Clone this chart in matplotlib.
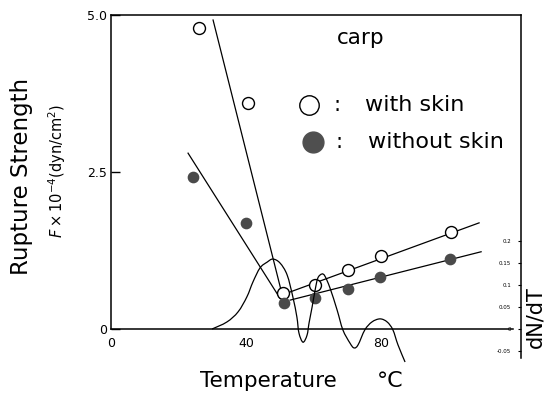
import numpy as np
import matplotlib.pyplot as plt
from matplotlib.path import Path
from matplotlib.patches import PathPatch

plt.rcParams['font.family'] = 'DejaVu Sans'

# rupture strength (x10^-4 dyn/cm^2) vs temperature (deg C)
t_skin = [26.0, 40.5, 50.9, 60.4, 70.1, 79.9, 100.6]
f_skin = [4.79, 3.60, 0.57, 0.70, 0.94, 1.16, 1.55]
t_noskin = [24.3, 40.0, 51.2, 60.4, 70.1, 79.6, 100.3]
f_noskin = [2.42, 1.69, 0.41, 0.49, 0.64, 0.83, 1.11]

# hand-fitted straight lines (end points)
fit_skin_fall = ([30.2, 50.3], [4.92, 0.62])
fit_skin_rise = ([53.0, 108.9], [0.59, 1.69])
fit_noskin_fall = ([22.8, 50.0], [2.80, 0.49])
fit_noskin_rise = ([53.0, 109.5], [0.46, 1.23])

# dN/dT trace
t_dndt = [29.9, 34.3, 37.6, 40.2, 42.0, 44.1, 46.2, 47.9, 50.0, 52.1, 53.8,
          55.0, 55.6, 56.8, 58.0, 58.6, 59.5, 60.4, 61.2, 62.4, 63.3, 64.8,
          66.9, 68.6, 70.7, 71.9, 73.1, 75.1, 77.2, 79.6, 81.7, 83.4, 84.9,
          87.0]
dndt = [0.000, 0.016, 0.039, 0.073, 0.107, 0.139, 0.152, 0.159, 0.150, 0.123,
        0.073, 0.027, -0.009, -0.030, -0.014, 0.014, 0.050, 0.089, 0.116,
        0.125, 0.120, 0.093, 0.043, -0.002, -0.032, -0.043, -0.036, -0.002,
        0.016, 0.023, 0.016, -0.002, -0.036, -0.075]

left_ticks = [0, 2.5, 5.0]
left_labels = ['0', '2.5', '5.0']
x_ticks = [0, 40, 80]
right_ticks = [-0.05, 0, 0.05, 0.1, 0.15, 0.2]
right_labels = ['-0.05', '0', '0.05', '0.1', '0.15', '0.2']


def smooth_path(xs, ys):
    """Catmull-Rom curve through the points, as cubic Bezier segments."""
    p = np.column_stack([xs, ys])
    p = np.vstack([p[0], p, p[-1]])
    verts = [p[1]]
    codes = [Path.MOVETO]
    for i in range(1, len(p) - 2):
        c1 = p[i] + (p[i + 1] - p[i - 1]) / 6
        c2 = p[i + 1] - (p[i + 2] - p[i]) / 6
        verts += [c1, c2, p[i + 1]]
        codes += [Path.CURVE4] * 3
    return Path(verts, codes)


W, H = 548, 398
fig = plt.figure(figsize=(W / 100, H / 100), dpi=100)

x0, x1, ytop, ybot = 111, 521, 15, 329
ax = fig.add_axes([x0 / W, 1 - ybot / H, (x1 - x0) / W, (ybot - ytop) / H])
ax.set_xlim(0, 121.3)
ax.set_ylim(0, 5.0)
ax.patch.set_alpha(0)
ax.spines['right'].set_visible(False)
for s in ('left', 'top', 'bottom'):
    ax.spines[s].set_linewidth(1.1)
ax.spines['bottom'].set_bounds(0, 118.9)

ax.set_yticks(left_ticks, left_labels)
ax.set_xticks(x_ticks, [str(v) for v in x_ticks])
ax.tick_params(axis='y', direction='in', length=6.5, width=1, pad=3, labelsize=9)
ax.tick_params(axis='x', length=0, pad=6, labelsize=9)

lw = 0.9
for xs, ys in (fit_skin_fall, fit_skin_rise, fit_noskin_fall, fit_noskin_rise):
    ax.plot(xs, ys, color='black', lw=lw)

ax.plot(t_skin, f_skin, 'o', ms=8.6, mfc='white', mec='black', mew=1.0,
        clip_on=False, zorder=4)
ax.plot(t_noskin, f_noskin, 'o', ms=7.4, mfc='#4a4a4a', mec='#4a4a4a',
        clip_on=False, zorder=4)

# dN/dT on its own axis, extending below the zero line
ybot2 = 362
ax2 = fig.add_axes([x0 / W, 1 - ybot2 / H, (x1 - x0) / W, (ybot2 - ytop) / H])
ax2.set_xlim(0, 121.3)
ax2.set_ylim(-0.0750, 0.7136)
ax2.patch.set_alpha(0)
for s in ('left', 'top', 'bottom'):
    ax2.spines[s].set_visible(False)
ax2.spines['right'].set_linewidth(1.1)
ax2.spines['right'].set_bounds(-0.066, 0.7136)
ax2.set_xticks([])
ax2.yaxis.tick_right()
ax2.set_yticks(right_ticks, right_labels)
ax2.tick_params(axis='y', direction='in', length=2, width=0.8, pad=-7,
                labelsize=4)
for lab in ax2.get_yticklabels():
    lab.set_horizontalalignment('right')
ax2.add_patch(PathPatch(smooth_path(t_dndt, dndt), fill=False,
                        edgecolor='black', lw=lw, clip_on=False))

# legend and title text
ax.text(0.610, 0.927, 'carp', transform=ax.transAxes, ha='center',
        va='center', fontsize=15.5)
ax.plot([0.483], [0.713], 'o', ms=14, mfc='white', mec='black', mew=1.0,
        transform=ax.transAxes, clip_on=False)
ax.plot([0.493], [0.596], 'o', ms=15, mfc='#4f4f4f', mec='#4f4f4f',
        transform=ax.transAxes, clip_on=False)
ax.text(0.551, 0.713, ':', transform=ax.transAxes, ha='center', va='center',
        fontsize=15)
ax.text(0.556, 0.596, ':', transform=ax.transAxes, ha='center', va='center',
        fontsize=15)
ax.text(0.620, 0.713, 'with skin', transform=ax.transAxes, ha='left',
        va='center', fontsize=16)
ax.text(0.627, 0.596, 'without skin', transform=ax.transAxes, ha='left',
        va='center', fontsize=16)

# axis titles
fig.text(22 / W, 1 - 176 / H, 'Rupture Strength', rotation=90, ha='center',
         va='center', fontsize=16.5)
fig.text(57 / W, 1 - 171 / H, r'$F\times10^{-4}$(dyn/cm$^2$)', rotation=90,
         ha='center', va='center', fontsize=10.5)
fig.text(268 / W, 1 - 381 / H, 'Temperature', ha='center', va='center',
         fontsize=15.5)
fig.text(390 / W, 1 - 381 / H, '°C', ha='center', va='center', fontsize=16)
fig.text(535 / W, 1 - 317 / H, 'dN/dT', rotation=90, ha='center',
         va='center', fontsize=15)

fig.savefig('out.png', dpi=100)
